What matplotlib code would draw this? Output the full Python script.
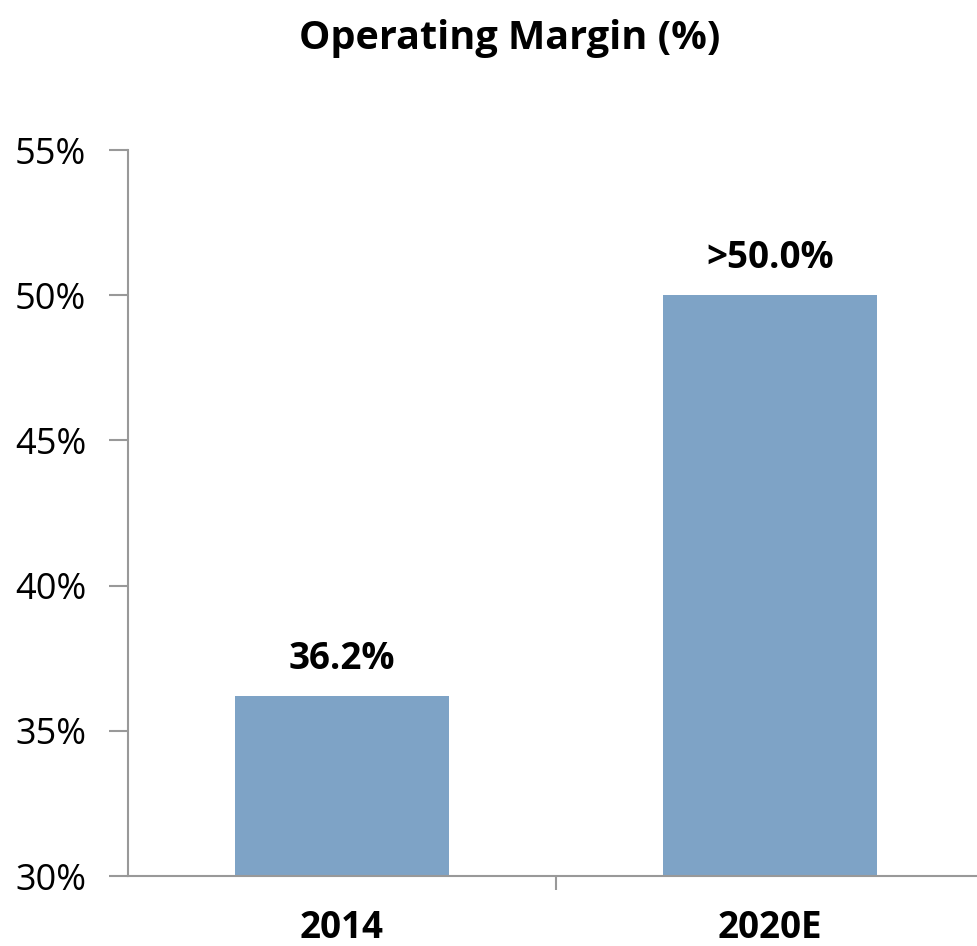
import matplotlib
matplotlib.use("Agg")
import matplotlib.pyplot as plt

# Data
CATEGORIES = ["2014", "2020E"]
MARGINS = [36.2, 50.0]
BAR_LABELS = ["36.2%", ">50.0%"]
Y_TICKS = [30, 35, 40, 45, 50, 55]

BAR_COLOR = "#7ea3c6"
AXIS_COLOR = "#999999"

plt.rcParams["font.family"] = ["Open Sans", "DejaVu Sans"]

fig = plt.figure(figsize=(9.78, 9.46), dpi=100)
ax = fig.add_axes([128 / 978, 1 - 876 / 946, 856 / 978, 726 / 946])

x = list(range(len(CATEGORIES)))
ax.bar(x, MARGINS, width=0.5, color=BAR_COLOR, zorder=2)

for xi, val, lab in zip(x, MARGINS, BAR_LABELS):
    ax.annotate(lab, (xi, val), xytext=(0, 13), textcoords="offset points",
                ha="center", va="bottom", fontsize=26.5, fontweight="bold")

ax.set_xlim(-0.5, len(CATEGORIES) - 0.5)
ax.set_ylim(Y_TICKS[0], Y_TICKS[-1])
ax.set_yticks(Y_TICKS)
ax.set_yticklabels(["%d%%" % t for t in Y_TICKS], fontsize=26)

# category labels without ticks, ticks on category boundaries
ax.set_xticks(x)
ax.set_xticklabels(CATEGORIES, fontsize=26.5, fontweight="bold")
ax.tick_params(axis="x", length=0, pad=24)
ax.set_xticks([i + 0.5 for i in x[:-1]], minor=True)
ax.tick_params(axis="x", which="minor", length=10, width=1.5, color=AXIS_COLOR,
               direction="out")
ax.tick_params(axis="y", length=14, width=1.5, color=AXIS_COLOR, pad=16)

for side in ["top", "right"]:
    ax.spines[side].set_visible(False)
for side in ["left", "bottom"]:
    ax.spines[side].set_color(AXIS_COLOR)
    ax.spines[side].set_linewidth(1.5)

fig.text(509.5 / 978, 1 - 38 / 946, "Operating Margin (%)", ha="center",
         va="center", fontsize=28.5, fontweight="bold")

fig.savefig("out.png", dpi=100)
